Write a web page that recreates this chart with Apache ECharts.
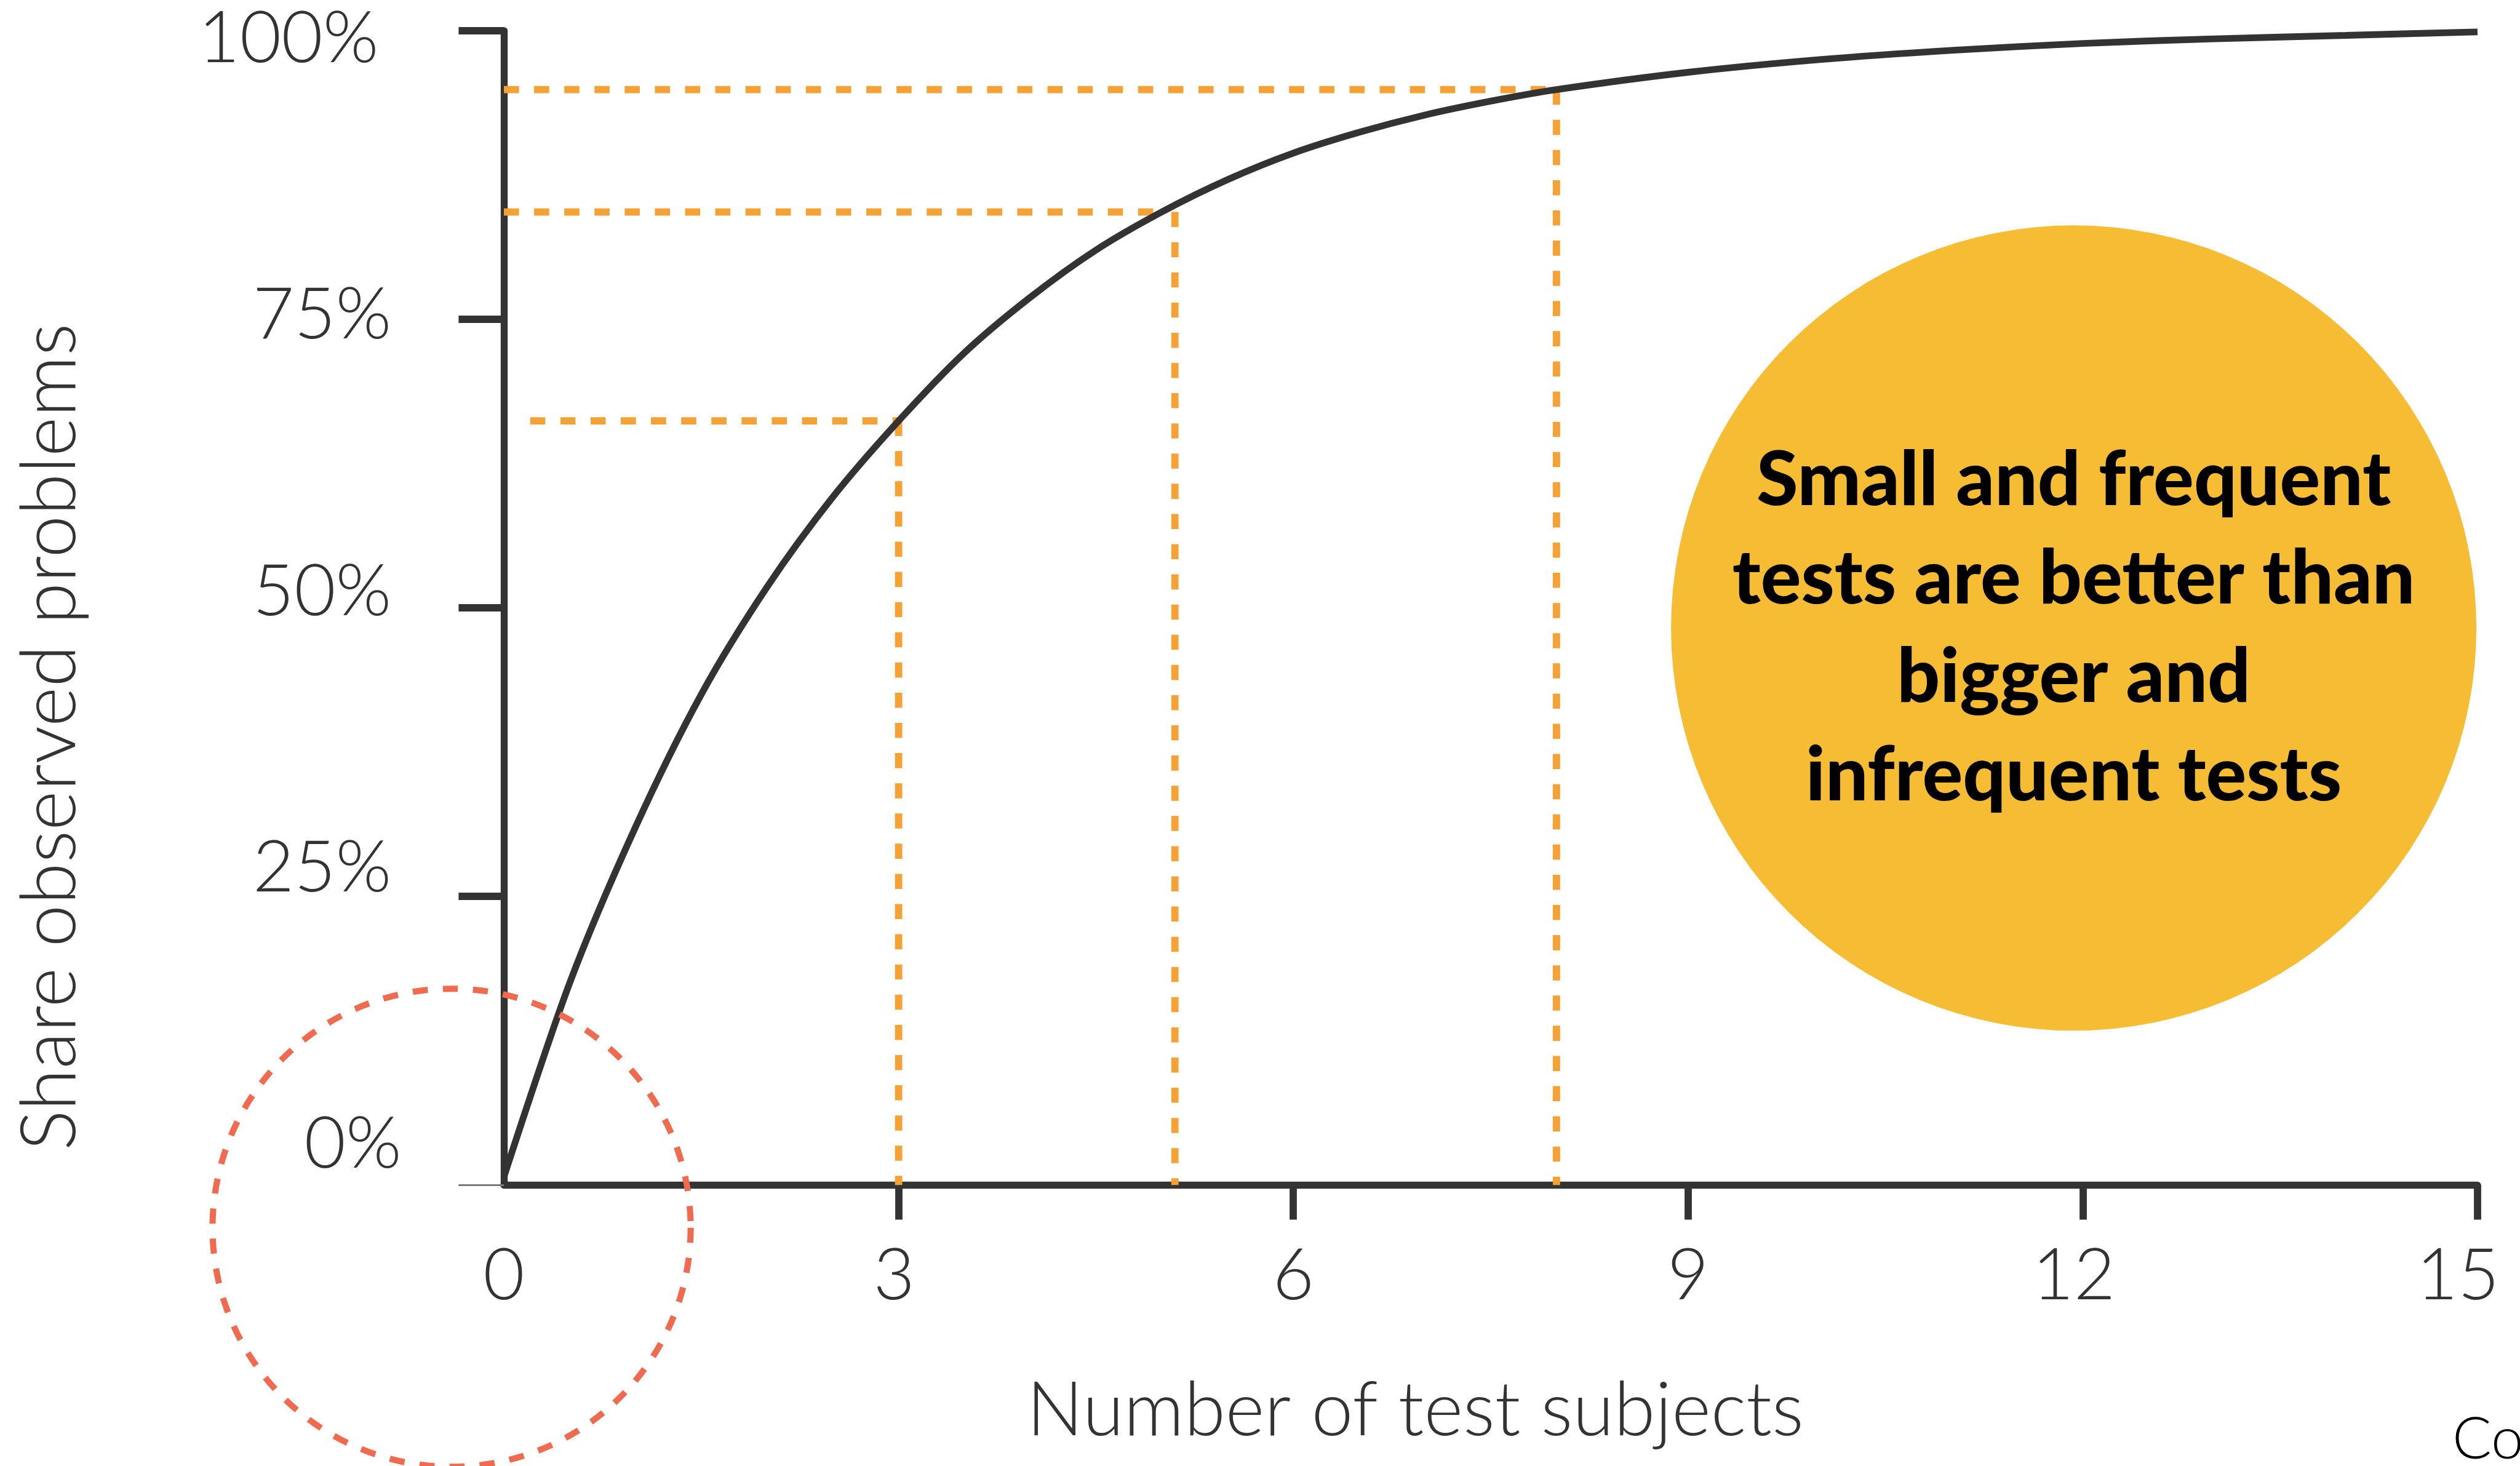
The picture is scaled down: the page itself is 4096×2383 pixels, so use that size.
<!DOCTYPE html>
<html>
<head>
<meta charset="utf-8">
<script src="https://cdn.jsdelivr.net/npm/echarts@6/dist/echarts.min.js"></script>
<style>
  html, body { margin: 0; padding: 0; background: #ffffff; }
  #chart { width: 4096px; height: 2383px; }
</style>
</head>
<body>
<div id="chart"></div>
<script>
// ---------------- data ----------------
const subjects   = [0, 0.5, 1, 1.5, 2, 2.5, 3, 3.5, 4, 4.5, 5, 5.5, 6, 6.5, 7, 7.5, 8, 9, 10, 11, 12, 13, 14, 15];
const shareFound = [0.7, 17.5, 31, 42.5, 51.8, 59.6, 66.2, 72.1, 76.9, 81.0, 84.3, 87.1, 89.4, 91.2, 92.7, 93.9, 94.9, 96.4, 97.5, 98.3, 98.9, 99.3, 99.6, 99.9];

// orange guide lines: level, where the horizontal part starts/ends, where the vertical part stands
const guideLevels   = [66.2, 84.3, 94.9];
const guideHStart   = [0.2, 0, 0];
const guideHEnd     = [3, 5, 8];
const guideVAt      = [3, 5.1, 8];

const xTicks      = [0, 3, 6, 9, 12, 15];
const yTicks      = [0, 25, 50, 75, 100];
const yTickLabels = ['0%', '25%', '50%', '75%', '100%'];

const xTitle = 'Number of test subjects';
const yTitle = 'Share observed problems';
const noteLines = ['Small and frequent', 'tests are better than', 'bigger and', 'infrequent tests'];
const logoText = 'Con';

// ---------------- layout / style ----------------
const S = 4096 / 4506;
const R = v => v * S;
const DARK = '#333333';
const ORANGE = '#F4A236';
const FONT = 'Lato, "Open Sans", "Noto Sans", sans-serif';

const chart = echarts.init(document.getElementById('chart'), null, { renderer: 'canvas' });

const series = [];
for (let i = 0; i < guideLevels.length; i++) {
  const dashStyle = { color: ORANGE, width: R(13), type: [R(27), R(27)], cap: 'butt' };
  series.push({
    type: 'line', xAxisIndex: 0, yAxisIndex: 0, z: 3, silent: true,
    showSymbol: false, symbol: 'none', clip: false, animation: false,
    lineStyle: dashStyle,
    data: [[guideHStart[i], guideLevels[i]], [guideHEnd[i], guideLevels[i]]]
  });
  series.push({
    type: 'line', xAxisIndex: 0, yAxisIndex: 0, z: 3, silent: true,
    showSymbol: false, symbol: 'none', clip: false, animation: false,
    lineStyle: dashStyle,
    data: [[guideVAt[i], guideLevels[i]], [guideVAt[i], 0]]
  });
}
series.push({
  type: 'line', xAxisIndex: 0, yAxisIndex: 0, z: 5, silent: true,
  showSymbol: false, symbol: 'none', smooth: 0.3, clip: false, animation: false,
  lineStyle: { color: DARK, width: R(12), cap: 'butt' },
  data: subjects.map((n, i) => [n, shareFound[i]])
});

const labelBase = { fontSize: R(128), color: DARK, fontFamily: FONT, fontWeight: 300 };

const option = {
  backgroundColor: '#ffffff',
  animation: false,
  textStyle: { fontFamily: FONT },
  grid: [
    { left: R(901), top: R(55), width: R(4430 - 901), height: R(2119 - 55), containLabel: false },
    { left: R(901), top: R(70), width: R(4430 - 901), height: R(2047 - 70), containLabel: false }
  ],
  xAxis: [
    {
      gridIndex: 0, type: 'value', min: 0, max: 15, interval: 3, position: 'bottom',
      axisLine: { show: true, onZero: false, lineStyle: { color: DARK, width: R(12.5) } },
      axisTick: { show: true, customValues: [3, 6, 9, 12, 15], length: R(62), lineStyle: { color: DARK, width: R(13) } },
      axisLabel: Object.assign({
        show: true, customValues: xTicks, margin: R(163), verticalAlign: 'middle',
        formatter: function (v) {
          if (v === 15) return '{e|' + v + '}';
          if (v === 12) return '{d|' + v + '}';
          if (v === 3) return '{f|' + v + '}';
          return '{n|' + v + '}';
        },
        rich: {
          e: Object.assign({ padding: [0, R(70), 0, 0] }, labelBase),
          d: Object.assign({ padding: [0, R(32), 0, 0] }, labelBase),
          f: Object.assign({ padding: [0, R(16), 0, 0] }, labelBase),
          n: Object.assign({}, labelBase)
        }
      }, labelBase),
      splitLine: { show: false },
      name: xTitle, nameLocation: 'middle', nameGap: R(404),
      nameTextStyle: {
        fontSize: R(134), color: DARK, fontFamily: FONT, fontWeight: 300,
        verticalAlign: 'middle', padding: [0, R(270), 0, 0]
      }
    },
    { gridIndex: 1, type: 'value', min: 0, max: 15, show: false }
  ],
  yAxis: [
    {
      gridIndex: 0, type: 'value', min: 0, max: 100, interval: 25, position: 'left',
      axisLine: { show: true, onZero: false, lineStyle: { color: DARK, width: R(12.5) } },
      axisTick: { show: true, customValues: [25, 50, 75, 100], length: R(81), lineStyle: { color: DARK, width: R(13) } },
      axisLabel: { show: false },
      splitLine: { show: false },
      name: yTitle, nameLocation: 'middle', nameGap: R(811), nameRotate: 90,
      nameTextStyle: {
        fontSize: R(136), color: DARK, fontFamily: FONT, fontWeight: 300,
        verticalAlign: 'middle', padding: [0, R(462), 0, 0]
      }
    },
    {
      gridIndex: 0, type: 'value', min: 0, max: 100, interval: 25, position: 'left',
      axisLine: { show: false },
      axisTick: { show: true, customValues: [0], length: R(81), lineStyle: { color: '#7a7a7a', width: R(3.5) } },
      axisLabel: { show: false },
      splitLine: { show: false }
    },
    {
      gridIndex: 1, type: 'value', min: 0, max: 100, interval: 25, position: 'left',
      axisLine: { show: false },
      axisTick: { show: false },
      splitLine: { show: false },
      axisLabel: Object.assign({
        show: true, margin: R(183),
        formatter: function (v) {
          const idx = yTicks.indexOf(v);
          const txt = idx >= 0 ? yTickLabels[idx] : '';
          if (v === 100) return '{a|' + txt + '}';
          if (v === 0) return '{c|' + txt + '}';
          return '{b|' + txt + '}';
        },
        rich: {
          a: Object.assign({ padding: [0, R(41), 0, 0] }, labelBase),
          b: Object.assign({ padding: [0, R(18), 0, 0] }, labelBase),
          c: Object.assign({}, labelBase)
        }
      }, labelBase)
    }
  ],
  series: series,
  graphic: [
    {
      type: 'circle', z: 1, silent: true,
      shape: { cx: R(3708), cy: R(1123), r: R(720) },
      style: { fill: '#F6BC34' }
    },
    {
      type: 'text', z: 2, silent: true, x: R(3708), y: R(1124),
      style: {
        text: noteLines.join('\n'), fill: '#000000',
        fontSize: R(135), fontWeight: 900, fontFamily: FONT,
        align: 'center', textAlign: 'center', verticalAlign: 'middle', textVerticalAlign: 'middle',
        lineHeight: R(176)
      }
    },
    {
      type: 'circle', z: 20, silent: true,
      shape: { cx: R(807.5), cy: R(2195.5), r: R(427.5) },
      style: { fill: 'none', stroke: '#F06A4F', lineWidth: R(11), lineDash: [R(27), R(27)] }
    },
    {
      type: 'text', z: 2, silent: true, x: R(4385), y: R(2575),
      style: {
        text: logoText, fill: '#000000', fontSize: R(104), fontWeight: 300, fontFamily: FONT,
        align: 'left', textAlign: 'left', verticalAlign: 'middle', textVerticalAlign: 'middle'
      }
    }
  ]
};
chart.setOption(option);
</script>
</body>
</html>
